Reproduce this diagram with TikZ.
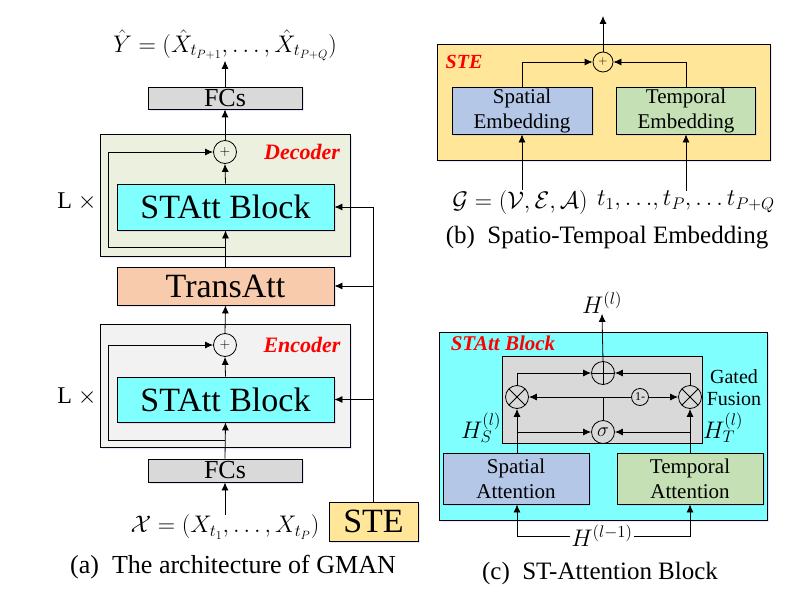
\documentclass[tikz,border=0pt]{standalone}
\usepackage{fix-cm}
\usepackage{fontspec}
\setmainfont{Liberation Serif}
\usetikzlibrary{arrows.meta,shadows}
\definecolor{cyanbox}{RGB}{128,255,255}
\definecolor{peach}{RGB}{248,203,173}
\definecolor{steyel}{RGB}{255,230,153}
\definecolor{decbg}{RGB}{235,241,222}
\definecolor{encbg}{RGB}{242,242,242}
\definecolor{fcgray}{RGB}{217,217,217}
\definecolor{spblue}{RGB}{180,199,231}
\definecolor{tpgreen}{RGB}{197,224,180}
\newcommand\fsz[2]{\fontsize{#1}{#2}\selectfont}
\begin{document}
\begin{tikzpicture}[x=1pt,y=-1pt,
  box/.style={draw, line width=0.8pt, inner sep=0pt, align=center,
    drop shadow={shadow xshift=1.5pt,shadow yshift=-2pt,fill=blue!50,opacity=0.2}},
  plain/.style={draw, line width=0.8pt, inner sep=0pt},
  arr/.style={-{Latex[length=8pt,width=7pt]}, line width=0.8pt},
  ln/.style={line width=0.8pt},
  opc/.style={draw, circle, line width=0.8pt, inner sep=0pt, minimum size=#1},
  opc/.default=23pt,
  cplus/.style={opc, path picture={\draw[line width=0.8pt]
    (path picture bounding box.north) -- (path picture bounding box.south)
    (path picture bounding box.west) -- (path picture bounding box.east);}},
  ctimes/.style={opc, path picture={\draw[line width=0.8pt]
    (path picture bounding box.north west) -- (path picture bounding box.south east)
    (path picture bounding box.south west) -- (path picture bounding box.north east);}},
  redlab/.style={text=red, font=\fsz{21}{24}\bfseries\itshape, inner sep=0pt},
  lab/.style={inner sep=0pt},
]
\useasboundingbox (0,0) rectangle (789,599);

% ---------------- Panel (a) ----------------
\node[lab, font=\fsz{24}{28}] (yhat) at (225,45)
  {$\hat{Y}=(\hat{X}_{t_{P+1}},\ldots,\hat{X}_{t_{P+Q}})$};
\node[box, fill=fcgray, minimum width=154pt, minimum height=22pt, font=\fsz{26}{28}] (fcsTop) at (225,98) {FCs};

\node[box, fill=decbg, minimum width=250pt, minimum height=122pt] (dec) at (225,195) {};
\node[opc, font=\fsz{14}{14}] (decPlus) at (225,152) {$+$};
\node[redlab, font=\fsz{22}{24}\bfseries\itshape] (decLab) at (302,152) {Decoder};
\node[box, fill=cyanbox, minimum width=217pt, minimum height=46pt, font=\fsz{34}{36}] (decBlock) at (225.5,207) {STAtt Block};
\node[lab, font=\fsz{24}{26}] (lx1) at (77,202) {L $\times$};

\node[box, fill=peach, minimum width=217pt, minimum height=38pt, font=\fsz{34}{36}] (trans) at (225.5,286) {TransAtt};

\node[box, fill=encbg, minimum width=250pt, minimum height=123pt] (enc) at (225,385.5) {};
\node[opc, font=\fsz{14}{14}] (encPlus) at (225,345) {$+$};
\node[redlab, font=\fsz{22}{24}\bfseries\itshape] (encLab) at (302,345) {Encoder};
\node[box, fill=cyanbox, minimum width=217pt, minimum height=45pt, font=\fsz{34}{36}] (encBlock) at (225.5,399.5) {STAtt Block};
\node[lab, font=\fsz{24}{26}] (lx2) at (77,397) {L $\times$};

\node[box, fill=fcgray, minimum width=154pt, minimum height=23pt, font=\fsz{26}{28}] (fcsBot) at (225,470.5) {FCs};
\node[lab, font=\fsz{24}{28}] (xin) at (225,527) {$\mathcal{X}=(X_{t_1},\ldots,X_{t_P})$};
\node[box, fill=steyel, minimum width=89pt, minimum height=39pt, font=\fsz{34}{36}] (ste) at (373.5,521.5) {STE};
\node[lab, font=\fsz{26}{28}] (capA) at (233,567) {(a)\ \ The architecture of GMAN};

\draw[arr] (fcsTop.north) -- (yhat.south);
\draw[arr] (decPlus.north) -- (fcsTop.south);
\draw[arr] (decBlock.north) -- (decPlus.south);
\draw[arr] (trans.north) -- (decBlock.south);
\coordinate (decRes) at (225,247);
\draw[arr] (decRes) -- ++(-117,0) |- (decPlus.west);
\draw[arr] (encPlus.north) -- (trans.south);
\draw[arr] (encBlock.north) -- (encPlus.south);
\draw[arr] (fcsBot.north) -- (encBlock.south);
\coordinate (encRes) at (225,440);
\draw[arr] (encRes) -- ++(-117,0) |- (encPlus.west);
\draw[arr] (xin.north) -- (fcsBot.south);
\draw[arr] (ste.north) |- (decBlock.east);
\draw[arr] (ste.north |- trans.east) -- (trans.east);
\draw[arr] (ste.north |- encBlock.east) -- (encBlock.east);

% ---------------- Panel (b) ----------------
\node[box, fill=steyel, minimum width=333pt, minimum height=116pt] (steBox) at (603.5,102) {};
\node[redlab, font=\fsz{20}{22}\bfseries\itshape] (steLab) at (464,62) {STE};
\node[opc=20pt, font=\fsz{12}{12}] (stePlus) at (603,62) {$+$};
\node[box, fill=spblue, minimum width=140pt, minimum height=47pt, font=\fsz{21}{25}] (spEmb) at (522,110.5) {Spatial\\Embedding};
\node[box, fill=tpgreen, minimum width=139pt, minimum height=47pt, font=\fsz{21}{25}] (tpEmb) at (686,110.5) {Temporal\\Embedding};
\coordinate (steOut) at (603,16);
\node[lab, font=\fsz{24}{28}] (gform) at (520,202) {$\mathcal{G}=(\mathcal{V},\mathcal{E},\mathcal{A})$};
\node[lab, font=\fsz{24}{28}] (tform) at (686,202) {$t_1,{\ldots},t_P,{\ldots}\,t_{P+Q}$};
\node[lab, font=\fsz{25}{28}] (capB) at (607,238) {(b)\ \ Spatio-Tempoal Embedding};

\draw[arr] (stePlus.north) -- (steOut);
\draw[arr] (spEmb.north) |- (stePlus.west);
\draw[arr] (tpEmb.north) |- (stePlus.east);
\draw[arr] (spEmb.south |- gform.north) -- (spEmb.south);
\draw[arr] (tpEmb.south |- tform.north) -- (tpEmb.south);

% ---------------- Panel (c) ----------------
\node[lab, font=\fsz{24}{28}] (hl) at (602,303) {$H^{(l)}$};
\node[box, fill=cyanbox, minimum width=328pt, minimum height=188pt] (stBox) at (603,426) {};
\node[redlab] (stLab) at (503,343) {STAtt Block};
\node[plain, fill=fcgray, minimum width=200pt, minimum height=87pt] (gf) at (602,399.5) {};
\node[cplus] (cPlus) at (603,373) {};
\node[ctimes] (mulL) at (517,397) {};
\node[ctimes] (mulR) at (690,397) {};
\node[opc=17pt, font=\fsz{12}{12}] (oneM) at (640,397) {1-};
\node[opc, font=\fsz{20}{20}] (sig) at (603,432) {$\sigma$};
\node[box, fill=spblue, minimum width=146pt, minimum height=51pt, font=\fsz{21}{25}] (spAtt) at (516,478.5) {Spatial\\Attention};
\node[box, fill=tpgreen, minimum width=146pt, minimum height=51pt, font=\fsz{21}{25}] (tpAtt) at (690,478.5) {Temporal\\Attention};
\node[lab, font=\fsz{24}{28}] (hs) at (481,428) {$H_S^{(l)}$};
\node[lab, font=\fsz{24}{28}] (ht) at (723,428) {$H_T^{(l)}$};
\node[lab, font=\fsz{20}{22}, align=center] (gfLab) at (734,388) {Gated\\Fusion};
\node[lab, font=\fsz{24}{28}, fill=white, inner sep=1pt] (hlm) at (602,536) {$H^{(l-1)}$};
\node[lab, font=\fsz{25}{28}] (capC) at (600,573) {(c)\ \ ST-Attention Block};

\draw[arr] (cPlus.north) -- (hl.south);
\draw[arr] (mulL.south |- spAtt.north) -- (mulL.south);
\draw[arr] (mulL |- sig) -- (sig.west);
\draw[arr] (mulR.south |- tpAtt.north) -- (mulR.south);
\draw[arr] (mulR |- sig) -- (sig.east);
\draw[arr] (mulL.north) |- (cPlus.west);
\draw[arr] (mulR.north) |- (cPlus.east);
\coordinate (sigUp) at (sig.north |- mulL);
\draw[ln] (sig.north) -- (sigUp);
\draw[arr] (sigUp) -- (mulL.east);
\draw[ln] (sigUp) -- (oneM.west);
\draw[arr] (oneM.east) -- (mulR.west);
\draw[arr] (hlm.west) -| (mulL.south |- spAtt.south);
\draw[arr] (hlm.east) -| (mulR.south |- tpAtt.south);
\end{tikzpicture}
\end{document}
